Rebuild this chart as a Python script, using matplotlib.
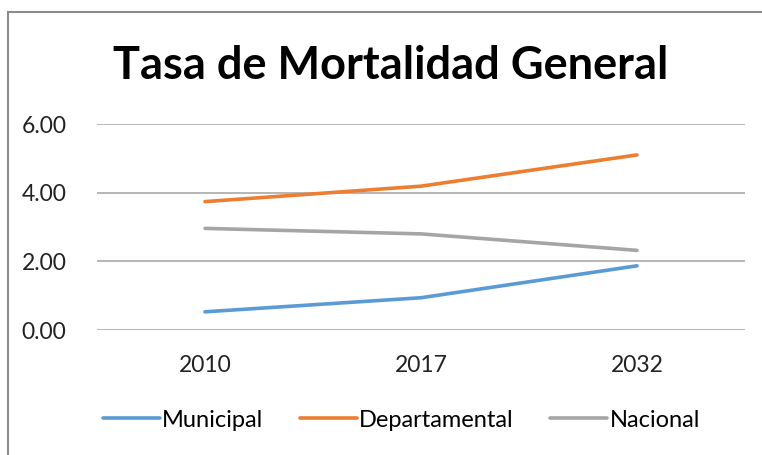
import matplotlib.pyplot as plt
from matplotlib.lines import Line2D

# datos
anios = ["2010", "2017", "2032"]
municipal = [0.53, 0.94, 1.87]
departamental = [3.74, 4.19, 5.10]
nacional = [2.96, 2.80, 2.32]
y_ticks = [0, 2, 4, 6]

plt.rcParams['font.family'] = ['Lato', 'DejaVu Sans']

fig = plt.figure(figsize=(7.62, 4.55), dpi=100)
ax = fig.add_axes([0.1273, 0.2747, 0.8504, 0.4527])

x = range(len(anios))
ax.plot(x, municipal, color='#5b9bd5', linewidth=2.6, label='Municipal', solid_capstyle='round')
ax.plot(x, departamental, color='#ed7d31', linewidth=2.6, label='Departamental', solid_capstyle='round')
ax.plot(x, nacional, color='#a5a5a5', linewidth=2.6, label='Nacional', solid_capstyle='round')

ax.set_xlim(-0.5, 2.5)
ax.set_ylim(0, 6)
ax.set_yticks(y_ticks)
ax.set_yticklabels([f"{v:.2f}" for v in y_ticks])
ax.set_xticks(list(x))
ax.set_xticklabels(anios)
ax.tick_params(axis='both', length=0, labelsize=16.5, colors='#222222')
ax.tick_params(axis='y', pad=22)
ax.tick_params(axis='x', pad=18)
ax.grid(axis='y', color='#b0b0b0', linewidth=1.3)
ax.set_axisbelow(True)
for s in ax.spines.values():
    s.set_visible(False)

fig.text(0.513, 0.855, "Tasa de Mortalidad General", ha='center', va='center',
         fontsize=32.5, fontweight='bold')

ax.legend(loc='center', bbox_to_anchor=(0.47, -0.437), ncol=3, frameon=False,
          fontsize=17, handlelength=2.4, handletextpad=0.1, columnspacing=1.55)

# borde del grafico
fig.add_artist(Line2D([0.0105, 0.0105], [0, 0.973], color='#8c8c8c', linewidth=1.5))
fig.add_artist(Line2D([0.0105, 1.0], [0.973, 0.973], color='#8c8c8c', linewidth=1.5))

plt.savefig("out.png", dpi=100)
